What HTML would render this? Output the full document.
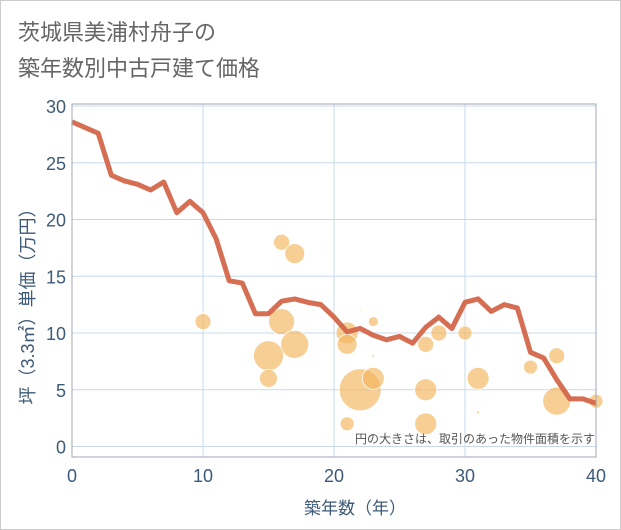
<!DOCTYPE html>
<html><head><meta charset="utf-8"><style>
body{margin:0;background:#fff;}
svg{display:block;font-family:"Liberation Sans","Noto Sans CJK JP",sans-serif;}
</style></head><body>
<svg width="621" height="530">
<rect x="0.5" y="0.5" width="620" height="529" fill="#fff" stroke="#ccc"/>
<text x="18" y="40" font-size="22" fill="#666">茨城県美浦村舟子の</text>
<text x="18" y="76" font-size="22" fill="#666">築年数別中古戸建て価格</text>
<g id="grid"></g>
<g id="bubbles"></g>
<g id="line"></g>
<g id="axes"></g>
<text x="595" y="443" font-size="12" fill="#555" text-anchor="end">円の大きさは、取引のあった物件面積を示す</text>
<text x="355" y="514" font-size="17" fill="#3d5a78" text-anchor="middle">築年数（年）</text>
<text transform="translate(34,302) rotate(-90)" font-size="18" fill="#3d5a78" text-anchor="middle">坪（3.3㎡）単価（万円）</text>
</svg>
<script>
const years=[0,1,2,3,4,5,6,7,8,9,10,11,12,13,14,15,16,17,18,19,20,21,22,23,24,25,26,27,28,29,30,31,32,33,34,35,36,37,38,39,40];
const avgPrice=[28.6,28.1,27.6,23.9,23.4,23.1,22.6,23.3,20.6,21.6,20.6,18.3,14.6,14.4,11.7,11.7,12.8,13.0,12.7,12.5,11.4,10.1,10.4,9.8,9.4,9.7,9.1,10.5,11.4,10.4,12.7,13.0,11.9,12.5,12.2,8.3,7.8,5.9,4.2,4.2,3.8];
const bubbleX=[10,16,17,16,15,17,15,21,21,22,23,21,23,22,23,27,28,27,27,30,31,31,35,37,37,40];
const bubbleY=[11,18,17,11,8,9,6,10,9,5,6,2,11,12,8,9,10,5,2,10,6,3,7,8,4,4];
const bubbleArea=[64,64,100,169,225,196,81,121,100,441,121,49,25,1,2,64,64,121,121,49,121,2,49,64,196,49];
const xTicks=[0,10,20,30,40];
const yTicks=[0,5,10,15,20,25,30];
const NS="http://www.w3.org/2000/svg";
const L=72,R=596,T=104,B=457;
const xs=v=>L+v*(R-L)/40;
const ys=v=>446.5-v*11.35;
function mk(tag,attrs,parent){const e=document.createElementNS(NS,tag);for(const k in attrs)e.setAttribute(k,attrs[k]);document.getElementById(parent).appendChild(e);return e;}
yTicks.forEach(t=>{
 const g=mk('line',{x1:L,x2:R,y1:ys(t),y2:ys(t),stroke:'#c9d9ea','stroke-width':1},'grid');
 
 
 const tx=mk('text',{x:66,y:ys(t)+7,'font-size':18,fill:'#3d5a78','text-anchor':'end'},'axes');
 tx.textContent=t;
 
 
});
xTicks.forEach(t=>{
 const g=mk('line',{x1:xs(t),x2:xs(t),y1:T,y2:B,stroke:'#c9d9ea','stroke-width':1},'grid');
 
 
 const tx=mk('text',{x:xs(t),y:482,'font-size':18,fill:'#3d5a78','text-anchor':'middle'},'axes');
 tx.textContent=t;
 
 
});
const fr=mk('rect',{x:L,y:T,width:R-L,height:B-T,fill:'none',stroke:'#a0aab4'},'axes');


bubbleX.forEach((x,i)=>{
 const c=mk('circle',{cx:xs(x),cy:ys(bubbleY[i]),r:Math.sqrt(bubbleArea[i]),fill:'#f2b45a','fill-opacity':0.65,stroke:'#fff','stroke-width':0.8},'bubbles');
 
 
});
const p=mk('polyline',{points:years.map((y,i)=>xs(y)+','+ys(avgPrice[i])).join(' '),fill:'none',stroke:'#d4664a','stroke-width':5,'stroke-linejoin':'round','stroke-opacity':0.95},'line');


</script>
</body></html>
